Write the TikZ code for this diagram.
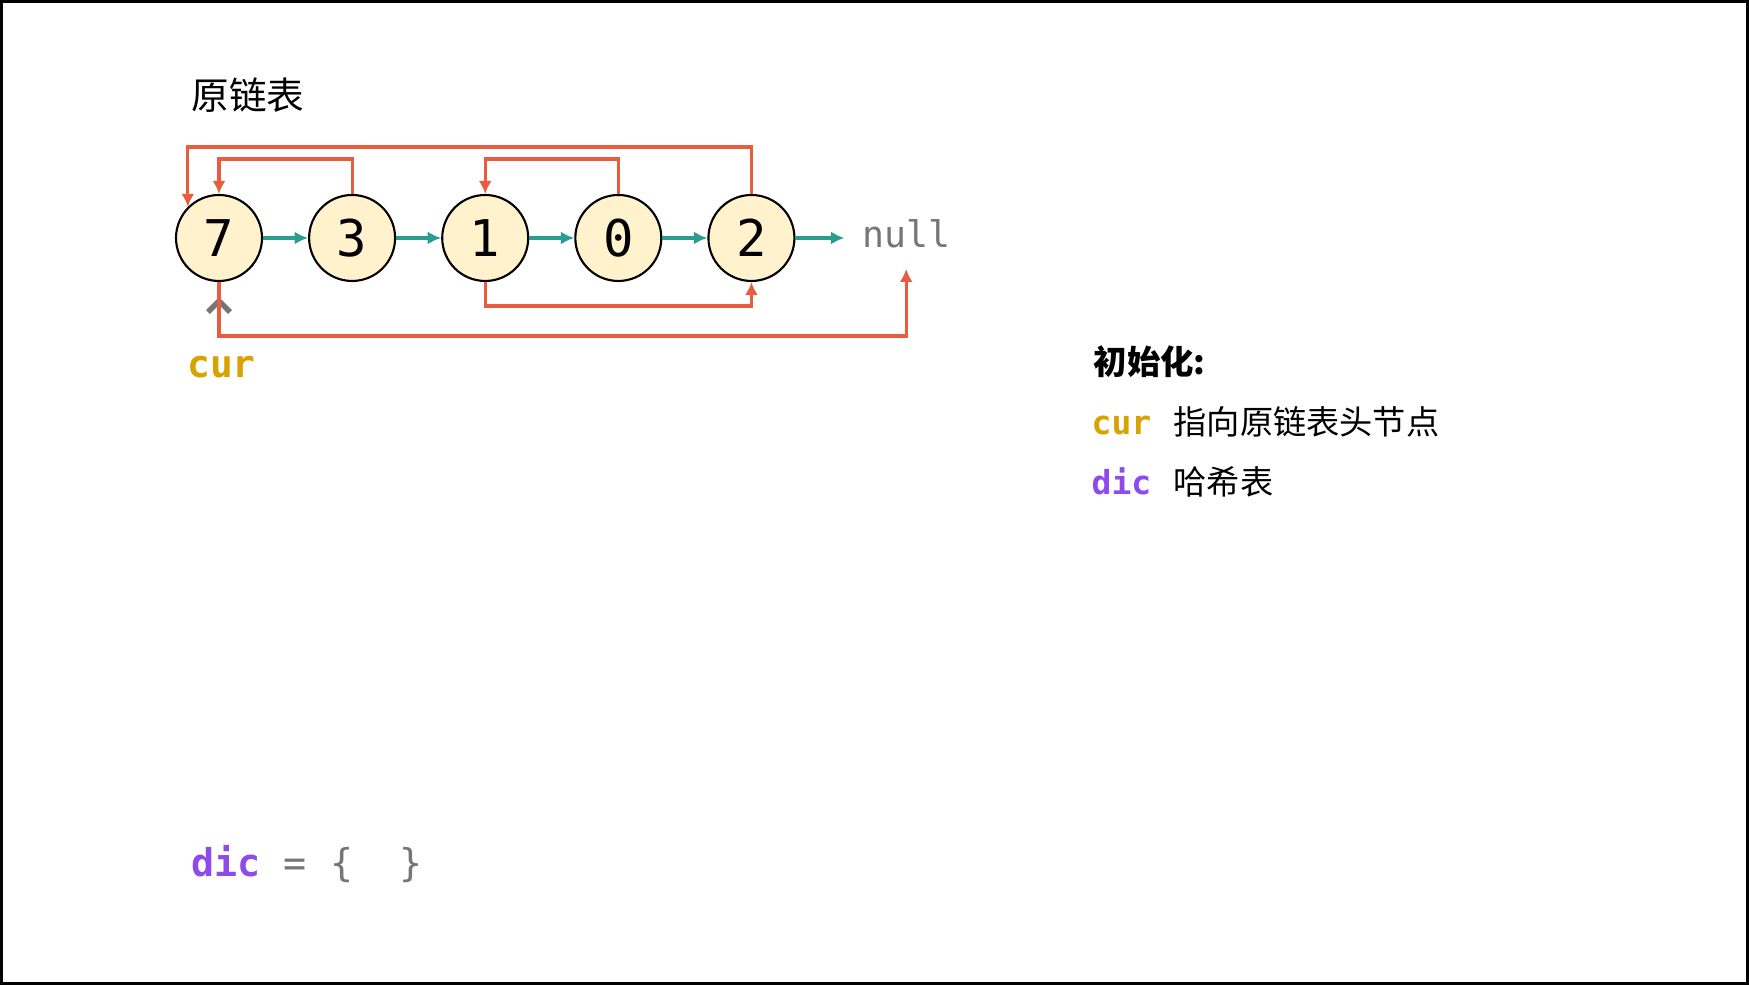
\documentclass[tikz,border=0pt]{standalone}
\usepackage{fontspec}
\setmonofont{DejaVu Sans Mono}
\newfontfamily\cjk{Noto Sans CJK SC}
\usetikzlibrary{arrows.meta, positioning}

\definecolor{linkred}{RGB}{232,93,63}
\definecolor{nextteal}{RGB}{42,157,143}
\definecolor{nodefill}{RGB}{255,242,204}
\definecolor{curgold}{RGB}{216,162,0}
\definecolor{dicpurple}{RGB}{142,74,235}
\definecolor{nullgray}{RGB}{118,118,118}

\begin{document}
\begin{tikzpicture}
    \tikzstyle{listnode} = [circle, draw, line width=0.6pt, fill=nodefill, minimum size=0.86cm, inner sep=0pt, font=\ttfamily\fontsize{14.4}{16}\selectfont]
    \tikzstyle{nxt} = [line width=0.9pt, nextteal, -{Latex[length=1.35mm, width=1.3mm]}]
    \tikzstyle{rnd} = [line width=0.9pt, linkred, -{Latex[length=1.3mm, width=1.3mm]}]
    \tikzstyle{ptr} = [line width=0.5pt, nullgray, -{Straight Barb[length=1.1mm, width=2.2mm, line width=1.6pt]}]
    \tikzstyle{txt} = [anchor=base west, inner sep=0pt]
    \useasboundingbox (0,0) rectangle (17.49,9.85);
    \draw [line width=0.6mm] (0,0) rectangle (17.49,9.85);

    \node [txt, font=\cjk\fontsize{10.7}{12}\selectfont] (title) at (1.91, 8.75) {原链表};

    % the list
    \node [listnode] (n7) at (2.19, 7.47) {7};
    \node [listnode, right=0.45cm of n7] (n3) {3};
    \node [listnode, right=0.45cm of n3] (n1) {1};
    \node [listnode, right=0.45cm of n1] (n0) {0};
    \node [listnode, right=0.45cm of n0] (n2) {2};
    \node [right=0.49cm of n2, yshift=0.4mm, inner xsep=1.7mm, inner ysep=2mm, text=nullgray, font=\ttfamily\fontsize{10.4}{12}\selectfont] (null) {null};
    \draw [nxt] (n7) -- (n3);
    \draw [nxt] (n3) -- (n1);
    \draw [nxt] (n1) -- (n0);
    \draw [nxt] (n0) -- (n2);
    \draw [nxt] (n2.east) -- (n2.east -| null.west);

    % cur pointer
    \node [anchor=base, inner sep=0pt, text=curgold, font=\ttfamily\bfseries\fontsize{10.8}{12}\selectfont] (cur) at (2.215, 6.07) {cur};
    \coordinate (c7) at ([yshift=-0.54cm]n7.south);
    \draw [ptr] ([yshift=-0.34cm]n7.south) -- ([yshift=-0.15cm]n7.south);

    % random pointers
    \draw [rnd] (n2.north) -- ++(0, 0.47) -| (n7.135);
    \draw [rnd] (n3.north) -- ++(0, 0.35) -| (n7.north);
    \draw [rnd] (n0.north) -- ++(0, 0.35) -| (n1.north);
    \draw [rnd] (n1.south) -- ++(0, -0.24) -| (n2.south);
    \draw [rnd] (n7.south) -- (c7) -| (null.south);

    % legend
    \node [txt, font=\cjk\bfseries\fontsize{9.5}{11}\selectfont] (init) at (10.93, 6.10) {初始化:};
    \node [txt, text=curgold, font=\ttfamily\bfseries\fontsize{9.4}{11}\selectfont] (curkey) at (10.91, 5.50) {cur};
    \node [txt, font=\cjk\fontsize{9.45}{11}\selectfont] (curval) at (11.73, 5.50) {指向原链表头节点};
    \node [txt, text=dicpurple, font=\ttfamily\bfseries\fontsize{9.4}{11}\selectfont] (dickey) at (10.91, 4.90) {dic};
    \node [txt, font=\cjk\fontsize{9.45}{11}\selectfont] (dicval) at (11.73, 4.90) {哈希表};

    % hash table
    \node [txt, font=\ttfamily\fontsize{10.9}{12}\selectfont] (dic) at (1.91, 1.08) {\textcolor{dicpurple}{\bfseries dic} \textcolor{nullgray}{= \{\ \ \}}};
\end{tikzpicture}
\end{document}
